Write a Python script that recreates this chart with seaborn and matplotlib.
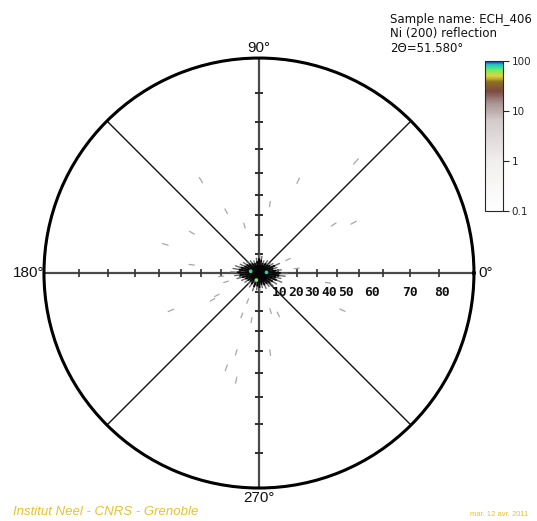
import numpy as np
import pandas as pd
import matplotlib
matplotlib.use('Agg')
import matplotlib.pyplot as plt
import seaborn as sns
from matplotlib.colors import LinearSegmentedColormap, LogNorm

# --- data (psi = tilt angle in degrees, phi = azimuth in degrees) ---
sample_lines = ['Sample name: ECH_406', 'Ni (200) reflection', '2\u0398=51.580\u00b0']

psi_ticks = [10, 20, 30, 40, 50, 60, 70, 80]
psi_tick_labels = ['10', '20', '30', '40', '50', '60', '70', '80']
phi_labels = ['0\u00b0', '90\u00b0', '180\u00b0', '270\u00b0']

cbar_ticks = [0.1, 1, 10, 100]
cbar_tick_labels = ['0.1', '1', '10', '100']

# central reflection: radial spikes (azimuth, reach in psi)
streak_phi = [0, 8, 17, 25, 34, 42, 55, 68, 80, 90, 100, 113, 125, 137, 146, 155, 163, 170,
              178, 186, 194, 203, 213, 224, 236, 250, 262, 272, 283, 295, 307, 318, 328, 338, 346, 353]
streak_psi = [15, 12, 10, 12, 9, 8, 8, 7, 9, 10, 8, 7, 8, 9, 10, 11, 13, 14,
              15, 13, 12, 10, 9, 8, 9, 10, 9, 10, 8, 9, 9, 10, 11, 13, 12, 14]

# hot spots inside the central reflection
core_phi = [5, 168, 250]
core_psi = [4.0, 4.5, 4.0]
core_int = [80, 75, 60]

# weak scattered speckles
speck_phi = [49, 122, 67, 118, 81, 149, 163, 33, 28, 107, 25, 7, 208, 210, 203,
             248, 261, 287, 295, 336, 352, 248, 254, 251, 278, 258, 173, 185, 195]
speck_psi = [69, 54, 50, 36, 36, 40, 49, 45, 53, 26, 17, 20, 25, 28, 48,
             16, 25, 21, 24, 46, 36, 24, 42, 50, 41, 54, 35, 20, 18]


def stereo(psi):
    return np.tan(np.radians(np.asarray(psi, dtype=float)) / 2.0)


sns.set_style('white')
plt.rcParams['font.family'] = ['DejaVu Sans']

cmap = LinearSegmentedColormap.from_list('pole', [
    (0.00, '#ffffff'), (0.33, '#f2eeee'), (0.60, '#d4cccc'), (0.72, '#a89494'),
    (0.80, '#7a4a40'), (0.86, '#8c6c24'), (0.90, '#e0d040'), (0.94, '#70f060'),
    (0.975, '#20c8c0'), (1.00, '#2030c0')])
norm = LogNorm(vmin=0.1, vmax=100)

fig = plt.figure(figsize=(5.37, 5.21), dpi=100)
ax = fig.add_axes([0.0819, 0.0633, 0.8007, 0.8253], projection='polar')
ax.set_ylim(0, 1)
ax.grid(False)
ax.set_xticks([])
ax.set_yticks([])
ax.spines['polar'].set_linewidth(2.2)
ax.spines['polar'].set_color('black')

# spokes
for p in [45, 135, 225, 315]:
    ax.plot([np.radians(p)] * 2, [0, 1], color='#111111', lw=1.0, zorder=2)
for p in [0, 90, 180, 270]:
    ax.plot([np.radians(p)] * 2, [0, 1], color='#4a4a4a', lw=1.6, zorder=2)

# psi ticks on the four main axes
rt = stereo(psi_ticks)
for p in [0, 180]:
    ax.plot(np.full(len(rt), np.radians(p)), rt, ls='none', marker='|', ms=6, mew=1.2, color='#333333', zorder=3)
for p in [90, 270]:
    ax.plot(np.full(len(rt), np.radians(p)), rt, ls='none', marker='_', ms=6, mew=1.2, color='#333333', zorder=3)

# speckles: short radial streaks
for ph, ps in zip(speck_phi, speck_psi):
    ax.plot([np.radians(ph)] * 2, stereo([ps - 1.3, ps + 1.3]), color='#a4a8a4', lw=0.9, zorder=4)

# central reflection spikes
for ph, ps in zip(streak_phi, streak_psi):
    ax.plot([np.radians(ph)] * 2, stereo([0, ps]), color='#6a6a6a', lw=1.0, zorder=5)
    ax.plot([np.radians(ph)] * 2, stereo([0, ps * 0.75]), color='#0a0a0a', lw=1.5, zorder=5)

ax.scatter([0], [0], s=150, color='#050505', zorder=6, linewidths=0)
core = pd.DataFrame({'theta': np.radians(core_phi), 'r': stereo(core_psi), 'I': core_int})
sns.scatterplot(data=core, x='theta', y='r', hue='I', palette=cmap, hue_norm=norm,
                s=7, linewidth=0, legend=False, ax=ax, zorder=7)
ax.set_xlabel('')
ax.set_ylabel('')
ax.set_ylim(0, 1)

# azimuth labels
lab_font = dict(family='Liberation Sans', fontsize=11, color='#111111')
ax.text(0, 1.02, phi_labels[0], ha='left', va='center', **lab_font)
ax.text(np.pi / 2, 1.015, phi_labels[1], ha='center', va='bottom', **lab_font)
ax.text(np.pi, 1.0, phi_labels[2], ha='right', va='center', **lab_font)
ax.text(3 * np.pi / 2, 1.015, phi_labels[3], ha='center', va='top', **lab_font)

# psi scale labels (packed tightly as in the original)
label_psi = [11.0, 19.6, 27.8, 36.2, 44.2, 55.3, 70.2, 80.8]
for ps, lab in zip(label_psi, psi_tick_labels):
    ax.annotate(lab, xy=(0, stereo(ps)), xytext=(0, -14), textcoords='offset points',
                ha='center', va='center', fontsize=9.4, fontweight='bold',
                family='DejaVu Sans Mono', color='#111111', zorder=8)

# colour bar
cax = fig.add_axes([0.9032, 0.595, 0.0335, 0.288])
sm = matplotlib.cm.ScalarMappable(norm=norm, cmap=cmap)
cb = fig.colorbar(sm, cax=cax)
cb.set_ticks(cbar_ticks)
cb.set_ticklabels(cbar_tick_labels)
cb.ax.minorticks_off()
cb.ax.tick_params(labelsize=7.5, length=4, width=0.8, pad=2)
cb.outline.set_linewidth(0.8)

# header / footer text
for i, line in enumerate(sample_lines):
    fig.text(390 / 537, 1 - (19 + 14.5 * i) / 521, line, fontsize=8.5, va='center', ha='left', color='#111111')
fig.text(13 / 537, 1 - 512 / 521, 'Institut Neel - CNRS - Grenoble', fontsize=9.5, style='italic',
         family='Liberation Sans', color='#e6c22e', va='center', ha='left')
fig.text(528 / 537, 1 - 514 / 521, 'mar. 12 avr. 2011', fontsize=5.5, family='Liberation Sans',
         color='#e6c22e', va='center', ha='right')

fig.savefig('out.png', dpi=100)
